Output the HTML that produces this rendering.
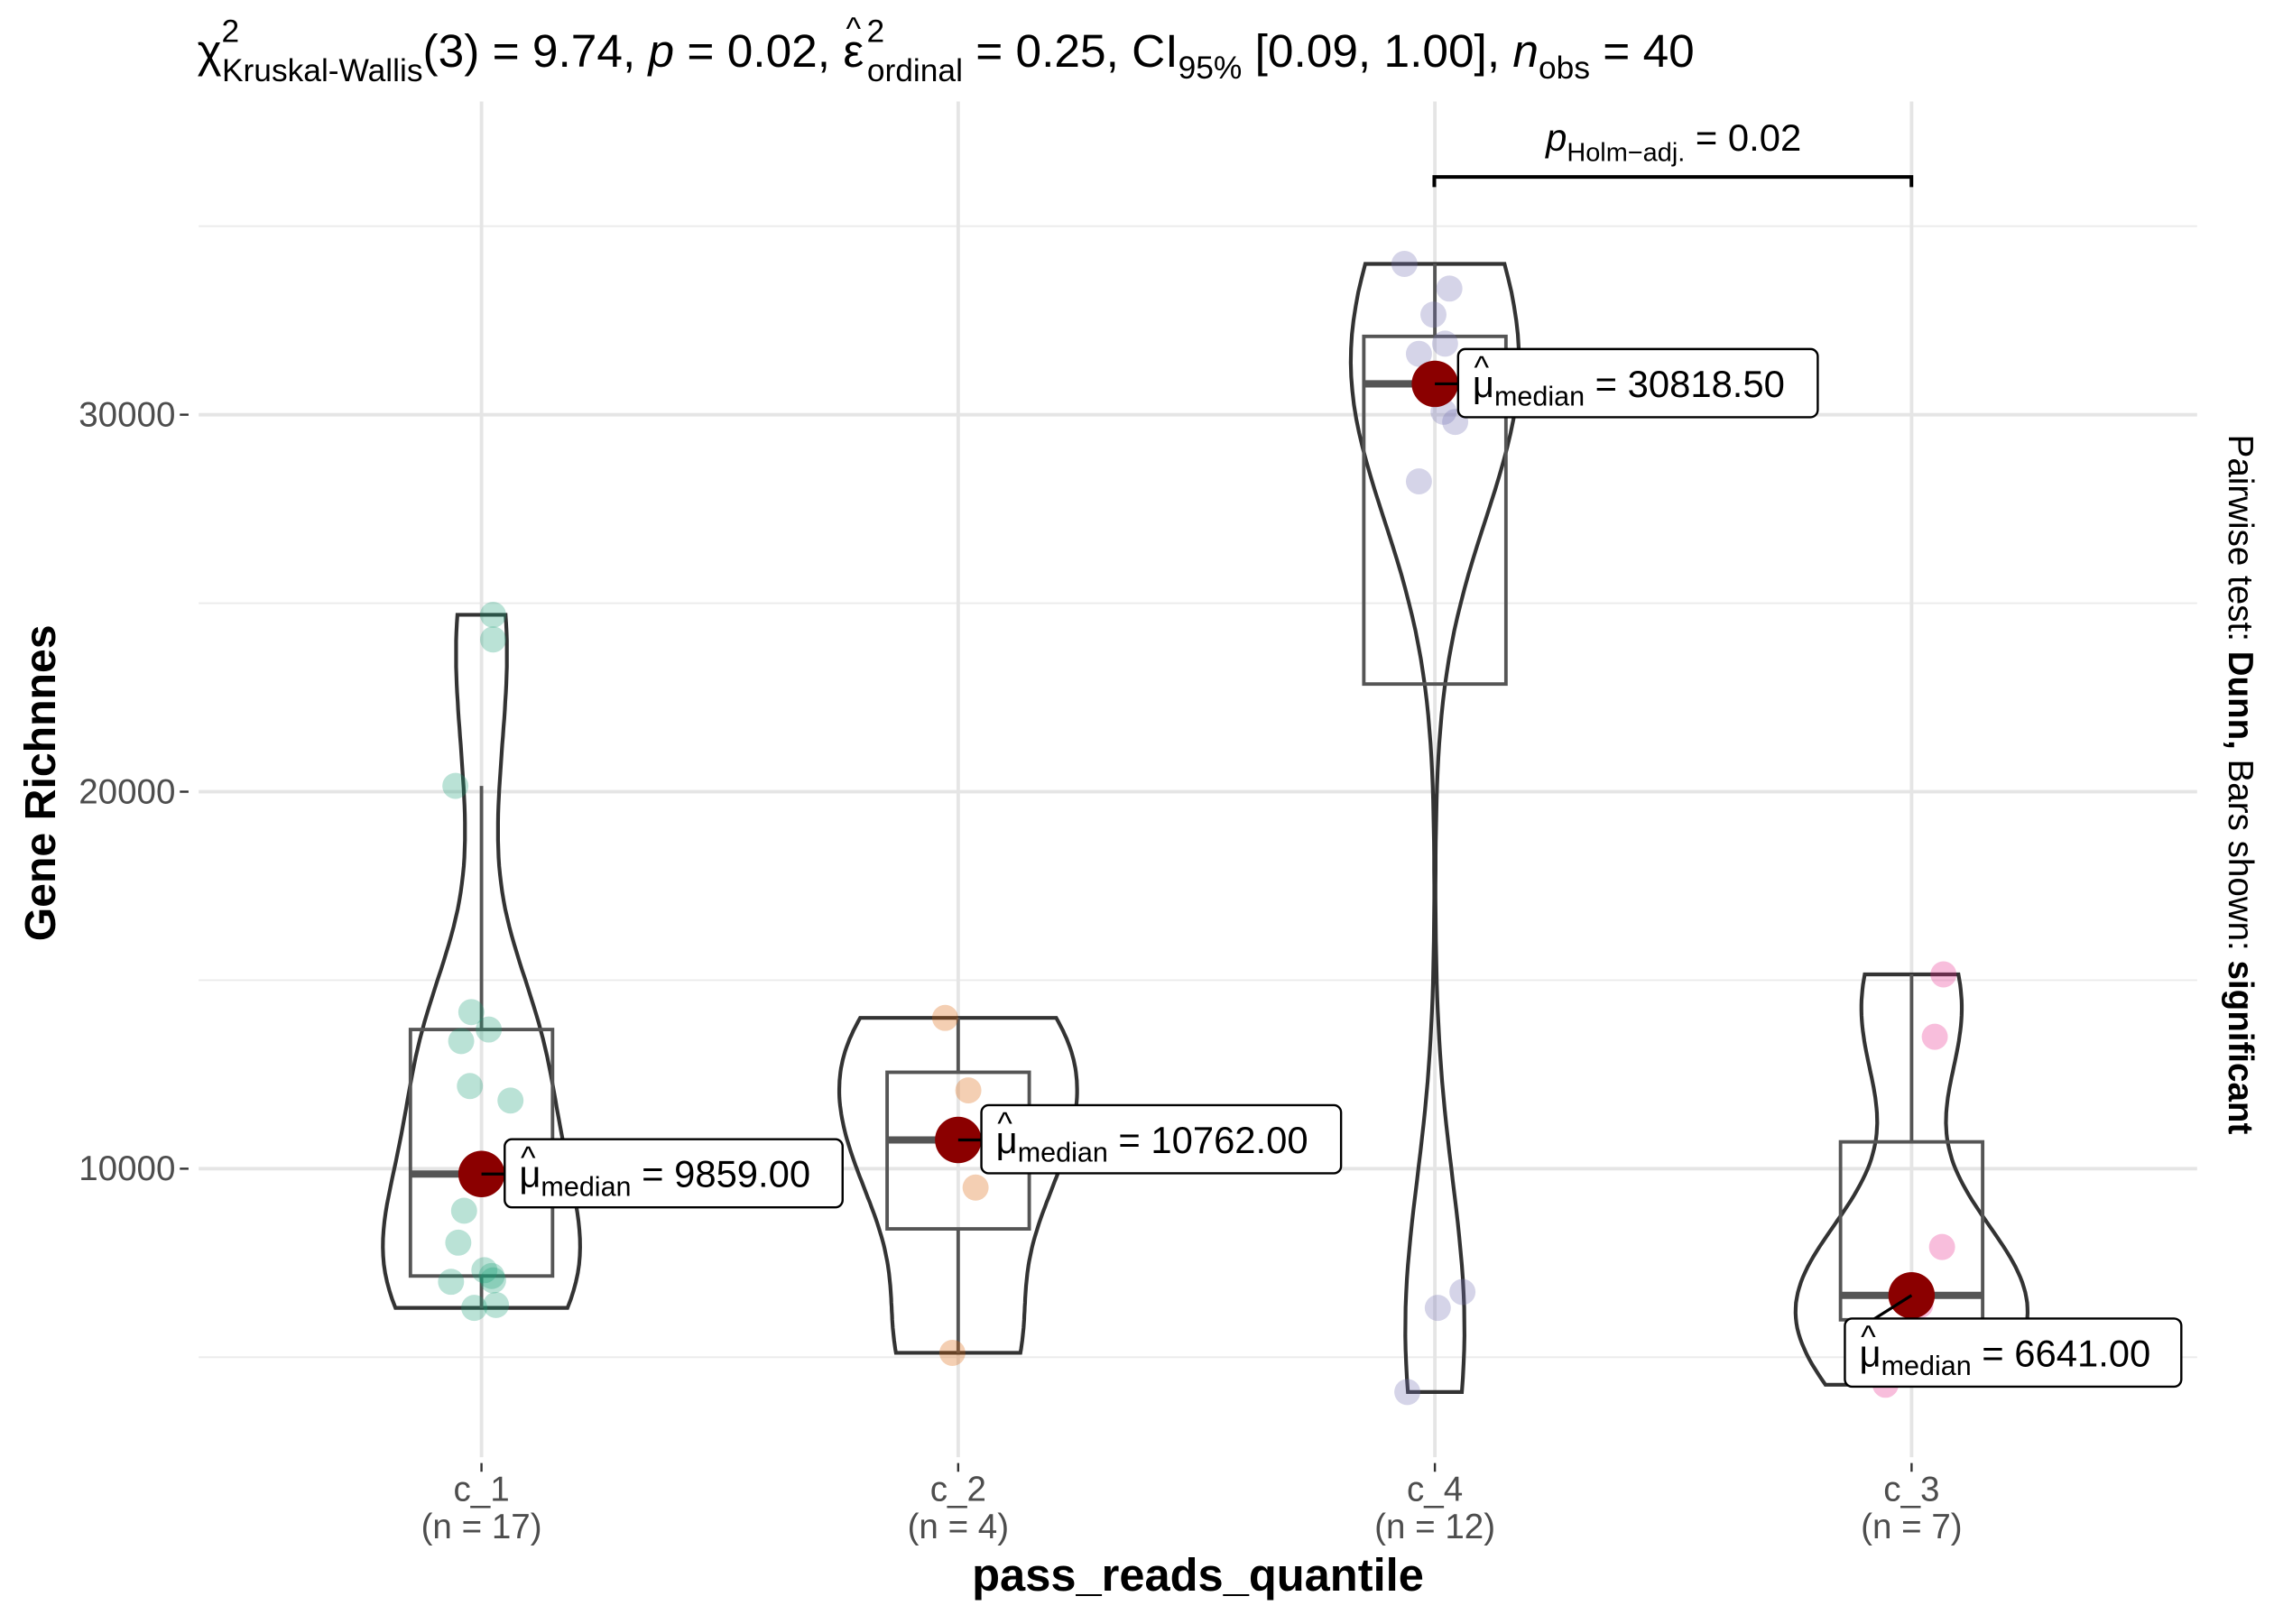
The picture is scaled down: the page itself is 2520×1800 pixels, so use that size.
<!DOCTYPE html>
<html><head><meta charset="utf-8"><style>
html,body{margin:0;padding:0;background:#fff}
svg{display:block}
text{font-family:"Liberation Sans",sans-serif}
</style></head><body>
<svg id="chart" width="2520" height="1800" viewBox="0 0 1568 1120" xmlns="http://www.w3.org/2000/svg">
<text x="136" y="46" font-size="32" fill="#000">χ<tspan font-size="22" dy="-17">2</tspan><tspan font-size="22" dy="27" dx="-12">Kruskal-Wallis</tspan><tspan dy="-10">(3) = 9.74, </tspan><tspan font-style="italic">p</tspan><tspan> = 0.02, </tspan><tspan id="eps">ε</tspan><tspan font-size="22" dy="-17" dx="2">2</tspan><tspan font-size="22" dy="27" dx="-12">ordinal</tspan><tspan dy="-10"> = 0.25, CI</tspan><tspan font-size="22" dy="8">95%</tspan><tspan dy="-8"> [0.09, 1.00], </tspan><tspan font-style="italic">n</tspan><tspan font-size="22" dy="8">obs</tspan><tspan dy="-8"> = 40</tspan></text>
<text id="epshat" x="582" y="27" font-size="22">^</text>
<g id="grid"></g>
<g id="plot"></g>
<text transform="translate(38,540) rotate(-90)" text-anchor="middle" font-size="30" font-weight="bold">Gene Richnnes</text>
<text x="826" y="1097" text-anchor="middle" font-size="31.5" font-weight="bold">pass_reads_quantile</text>
<text transform="translate(1537,541) rotate(90)" text-anchor="middle" font-size="24">Pairwise test: <tspan font-weight="bold">Dunn,</tspan> Bars shown: <tspan font-weight="bold">significant</tspan></text>
<g>
<path d="M989,129 V122 H1318 V129" fill="none" stroke="#000" stroke-width="2.5"/>
<text x="1154" y="104" text-anchor="middle" font-size="26"><tspan font-style="italic">p</tspan><tspan font-size="18" dy="7">Holm−adj.</tspan><tspan dy="-7"> = 0.02</tspan></text>
</g>
</svg>
<script>
const categories=["c_1","c_2","c_4","c_3"];
const counts=[17,4,12,7];
const colors=["#1b9e77","#d95f02","#7570b3","#e7298a"];
const valsC1=[24692,24038,20154,14154,13692,13385,12192,11808,9859,8885,8038,7308,7154,7000,7038,6308,6385];
const valsC2=[14000,12077,9500,5115];
const valsC4=[34000,33346,32654,31615,31885,30923,29808,30077,28231,6731,6308,4077];
const valsC3=[15154,13500,7923,6654,6385,5600,4269];
const medians=[9859,10762,30818.5,6641];
const medianLabels=["9859.00","10762.00","30818.50","6641.00"];
const jitter=[[8,8,-18,-7,5,-14,-8,20,0,-12,-16,2,7,-21,8,-5,10],[-9,7,12,-4],[-21,10,-1,-11,7,3,14,6,-11,19,2,-19],[22,16,21,0,6,-20,-18]];
const yTicks=[10000,20000,30000];
const allVals=[valsC1,valsC2,valsC4,valsC3];
const maxHalf=[68,82,58,80];
const NS="http://www.w3.org/2000/svg";
const xPos=i=>332+i*328.7;
const yPos=v=>806-(v-10000)*0.026;
function mk(tag,attrs,parent){const e=document.createElementNS(NS,tag);for(const k in attrs)e.setAttribute(k,attrs[k]);parent.appendChild(e);return e;}
try{const bb=document.getElementById('eps').getBBox();document.getElementById('epshat').setAttribute('x',bb.x+2);}catch(e){}
const grid=document.getElementById('grid'),plot=document.getElementById('plot');
[5000,15000,25000,35000].forEach(v=>{const l=mk('line',{x1:137,x2:1515,y1:yPos(v),y2:yPos(v),stroke:'#ebebeb','stroke-width':1.2},grid);

});
yTicks.forEach(v=>{const l=mk('line',{x1:137,x2:1515,y1:yPos(v),y2:yPos(v),stroke:'#e5e5e5','stroke-width':2.4},grid);


mk('line',{x1:124,x2:130,y1:yPos(v),y2:yPos(v),stroke:'#333','stroke-width':1.5},grid);
const t=mk('text',{x:121,y:yPos(v)+8,'text-anchor':'end','font-size':24,fill:'#4d4d4d'},grid);t.textContent=v;

});
categories.forEach((c,i)=>{const x=xPos(i);
const l=mk('line',{x1:x,x2:x,y1:70,y2:1005,stroke:'#e5e5e5','stroke-width':2.4},grid);


mk('line',{x1:x,x2:x,y1:1009,y2:1015,stroke:'#333','stroke-width':1.5},grid);
const t=mk('text',{x:x,y:1035,'text-anchor':'middle','font-size':24,fill:'#4d4d4d'},grid);t.textContent=c;


const t2=mk('text',{x:x,y:1061,'text-anchor':'middle','font-size':24,fill:'#4d4d4d'},grid);t2.textContent='(n = '+counts[i]+')';

});
function quant(a,p){const s=[...a].sort((x,y)=>x-y);const h=(s.length-1)*p,lo=Math.floor(h);return s[lo]+(s[Math.min(lo+1,s.length-1)]-s[lo])*(h-lo);}
allVals.forEach((vals,i)=>{const x=xPos(i);
const g=mk('g',{},plot);


const n=vals.length,mean=vals.reduce((a,b)=>a+b)/n;
const sd=Math.sqrt(vals.reduce((a,b)=>a+(b-mean)**2,0)/(n-1));
const iqr=quant(vals,.75)-quant(vals,.25);
const bw=0.9*Math.min(sd,iqr/1.34||sd)*Math.pow(n,-0.2);
const mn=Math.min(...vals),mx=Math.max(...vals);const steps=80;const dens=[];
for(let k=0;k<=steps;k++){const v=mn+(mx-mn)*k/steps;let d=0;vals.forEach(u=>{d+=Math.exp(-0.5*((v-u)/bw)**2)});dens.push([v,d]);}
const dm=Math.max(...dens.map(d=>d[1]));
let pr=dens.map(d=>[x+d[1]/dm*maxHalf[i],yPos(d[0])]),pl=dens.map(d=>[x-d[1]/dm*maxHalf[i],yPos(d[0])]).reverse();
const vp=mk('path',{d:'M'+pr.concat(pl).map(p=>p[0].toFixed(1)+','+p[1].toFixed(1)).join('L')+'Z',fill:'none',stroke:'#333','stroke-width':2.6},g);


const q1=quant(vals,.25),q3=quant(vals,.75),md=medians[i];
const upLim=q3+1.5*iqr,loLim=q1-1.5*iqr;
const uw=Math.max(...vals.filter(v=>v<=upLim)),lw=Math.min(...vals.filter(v=>v>=loLim));
if(uw>q3)mk('line',{x1:x,x2:x,y1:yPos(q3),y2:yPos(uw),stroke:'#555','stroke-width':2.4},g);
if(lw<q1)mk('line',{x1:x,x2:x,y1:yPos(q1),y2:yPos(lw),stroke:'#555','stroke-width':2.4},g);
const b=mk('rect',{x:x-49,y:yPos(q3),width:98,height:yPos(q1)-yPos(q3),fill:'none',stroke:'#555','stroke-width':2.4},g);


mk('line',{x1:x-49,x2:x+49,y1:yPos(md),y2:yPos(md),stroke:'#555','stroke-width':5},g);
vals.forEach((v,k)=>{const c=mk('circle',{cx:x+jitter[i][k],cy:yPos(v),r:9,fill:colors[i],'fill-opacity':0.3},g);

});
const cy=yPos(medians[i]);
const mp=mk('circle',{cx:x,cy:cy,r:16,fill:'#8b0000'},g);


const lx=i===3?x-46:x+16, ly=i===3?cy+16:cy-24;
mk('line',{x1:x,y1:cy,x2:lx+8,y2:i===3?ly+8:cy,stroke:'#000','stroke-width':2},g);
const w=i===1?248:(i===3?232:(i===2?248:233));
const r=mk('rect',{x:lx,y:ly,width:w,height:47,rx:5,fill:'#fff',stroke:'#000','stroke-width':1.5},g);


const t=mk('text',{x:lx+10,y:ly+33,'font-size':26},g);
t.innerHTML='μ<tspan font-size="19" dy="6">median</tspan><tspan dy="-6"> = '+medianLabels[i]+'</tspan>';
const h=mk('text',{x:lx+11,y:ly+20,'font-size':22},g);h.textContent='^';});
</script>
</body></html>
